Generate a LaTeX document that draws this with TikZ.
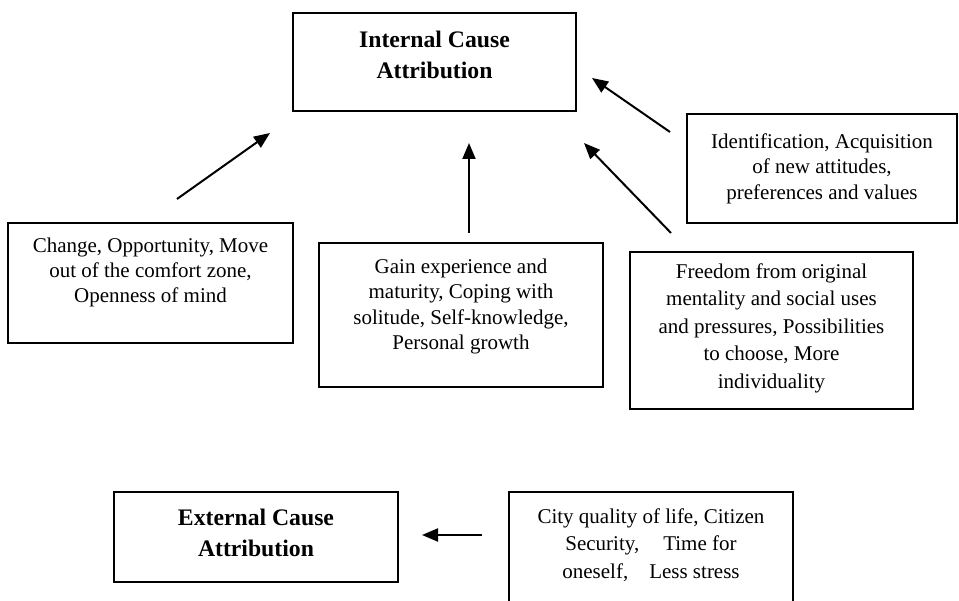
\documentclass[tikz,border=0pt]{standalone}
\usepackage{fontspec}
\setmainfont{Liberation Serif}
\usetikzlibrary{arrows.meta}
\tikzset{
  box/.style={draw, line width=1.3pt, inner sep=0pt, rectangle},
  txt/.style={inner sep=0pt, align=center, anchor=north, font=\fontsize{21pt}{#1}\selectfont},
  hd/.style={inner sep=0pt, align=center, anchor=north, font=\fontsize{23.7pt}{31pt}\selectfont\bfseries},
  arr/.style={line width=2pt, -{Triangle[length=16pt,width=13pt]}}
}
\begin{document}
\begin{tikzpicture}[x=1pt,y=-1pt]
\clip (0,0) rectangle (959,601);
\fill[white] (0,0) rectangle (959,601);
% boxes
\node[box, minimum width=283pt, minimum height=98pt] (int) at (434.5,62) {};
\node[box, minimum width=270pt, minimum height=109pt] (ident) at (822,168.5) {};
\node[box, minimum width=285pt, minimum height=120pt] (chg) at (150.5,283) {};
\node[box, minimum width=284pt, minimum height=144pt] (gain) at (461,315) {};
\node[box, minimum width=283pt, minimum height=157pt] (free) at (771.5,330.5) {};
\node[box, minimum width=284pt, minimum height=90pt] (ext) at (256,537) {};
\node[box, minimum width=284pt, minimum height=128pt] (city) at (651,556) {};
% texts
\node[hd] (tint) at (434.5,25.3) {\strut Internal Cause\\Attribution};
\node[hd] (text) at (256,503.3) {\strut External Cause\\Attribution};
\node[txt=25.5pt] (tident) at (822,130.15) {\strut Identification, Acquisition\\of new attitudes,\\preferences and values};
\node[txt=25pt] (tchg) at (150.5,234.5) {\strut Change, Opportunity, Move\\out of the comfort zone,\\Openness of mind};
\node[txt=25.5pt] (tgain) at (461,255.2) {\strut Gain experience and\\maturity, Coping with\\solitude, Self-knowledge,\\Personal growth};
\node[txt=27.5pt] (tfree) at (771.5,258.75) {\strut Freedom from original\\mentality and social uses\\and pressures, Possibilities\\to choose, More\\individuality};
\node[txt=27.5pt] (tcity) at (651,503.75) {\strut City quality of life, Citizen\\Security,\hspace{24pt}Time for\\oneself,\hspace{21pt}Less stress};
% arrow end points
\coordinate (a1s) at (177,199); \coordinate (a1e) at (270,133);
\coordinate (a2s) at (469,233); \coordinate (a2e) at (469,143);
\coordinate (a3s) at (670,132); \coordinate (a3e) at (592,78);
\coordinate (a4s) at (671,233); \coordinate (a4e) at (584,143);
\coordinate (a5s) at (482,535); \coordinate (a5e) at (422,535);
\draw[arr] (a1s) -- (a1e);
\draw[arr] (a2s) -- (a2e);
\draw[arr] (a3s) -- (a3e);
\draw[arr] (a4s) -- (a4e);
\draw[arr] (a5s) -- (a5e);
\end{tikzpicture}
\end{document}
